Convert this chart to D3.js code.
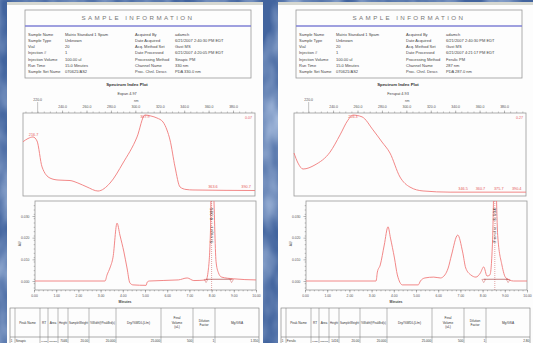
<!DOCTYPE html>
<html>
<head>
<meta charset="utf-8">
<script src="https://cdn.jsdelivr.net/npm/d3@7"></script>
<style>
  html, body { margin: 0; padding: 0; background: #4668a2; }
  svg { display: block; font-family: "Liberation Sans", Arial, sans-serif; }
</style>
</head>
<body>
<svg id="chart" width="533" height="343"></svg>
<script>
// ---- data ----
const infoLabelsLeft = ["Sample Name", "Sample Type", "Vial", "Injection #", "Injection Volume", "Run Time", "Sample Set Name"];
const infoLabelsRight = ["Acquired By", "Date Acquired", "Acq. Method Set", "Date Processed", "Processing Method", "Channel Name", "Proc. Chnl. Descr."];
const infoValuesLeft1 = ["Matrix Standard 1 Spam", "Unknown", "20", "1", "100.00 ul", "15.0 Minutes", "070621/AS2"];
const infoValuesRight1 = ["adamch", "6/21/2007 2:40:30 PM EDT", "Gust MS", "6/21/2007 4:20:05 PM EDT", "Sinapic PM", "330 nm", "PDA 330.0 nm"];
const infoValuesLeft2 = ["Matrix Standard 1 Spam", "Unknown", "20", "1", "100.00 ul", "15.0 Minutes", "070621/AS2"];
const infoValuesRight2 = ["adamch", "6/21/2007 2:40:30 PM EDT", "Gust MS", "6/21/2007 4:21:17 PM EDT", "Ferulic PM", "287 nm", "PDA 287.0 nm"];

const plotTitle = "Spectrum Index Plot";
const plotSubtitle1 = "Expan 4.97";
const plotSubtitle2 = "Ferupat 4.93";

// spectra (nm, AU)
const specNm1 = [208, 212.1, 216.2, 219.5, 223.6, 230.1, 236.7, 246.5, 253.0, 260.4, 269.4, 279.3, 289.9, 301.4, 307.9, 312.8, 317.7, 322.7, 325.9, 328.4, 332.5, 336.6, 341.5, 347.2, 398];
const specAbs1 = [0.0523, 0.0554, 0.0569, 0.0530, 0.0280, 0.0173, 0.0154, 0.0149, 0.0125, 0.0087, 0.0048, 0.0125, 0.0318, 0.0569, 0.0781, 0.0771, 0.0752, 0.0713, 0.0636, 0.0540, 0.0280, 0.0087, 0.0063, 0.0058, 0.0053];
const specNm2 = [208, 211.3, 215.4, 225.2, 237.5, 245.7, 252.2, 256.3, 263.7, 272.7, 280.1, 286.6, 294.8, 303.0, 313.7, 335.8, 398];
const specAbs2 = [0.145, 0.111, 0.091, 0.105, 0.148, 0.206, 0.256, 0.273, 0.267, 0.223, 0.182, 0.145, 0.064, 0.030, 0.017, 0.013, 0.013];
const specMax1 = 0.08, specMax2 = 0.28;
const specPeakLabels1 = [216.7, 307.9, 363.6, 390.7];
const specPeakLabels2 = [256.3, 346.5, 360.7, 375.7, 390.4];
const specCornerLabel1 = "0.07";
const specCornerLabel2 = "0.27";
const nmTicks = [220, 240, 260, 280, 300, 320, 340, 360, 380];

// chromatograms (minutes, AU)
const chromT1 = [0, 3.2, 3.29, 3.42, 3.56, 3.74, 3.87, 4.05, 4.19, 4.32, 4.46, 5.05, 5.1, 5.2, 6.5, 6.9, 7.2, 7.75, 7.85, 7.95, 8.0, 8.08, 8.2, 8.3, 8.45, 9.0, 10];
const chromAU1 = [0, 0, 0.0028, 0.006, 0.011, 0.0267, 0.0212, 0.0134, 0.006, -0.0009, -0.0018, -0.002, -0.0005, 0, 0.0005, 0.0014, 0.0002, 0.0005, 0.005, 0.0235, 0.06, 0.045, 0.009, 0.004, 0.0018, 0.001, 0.0005];
const chromT2 = [0, 3.2, 3.26, 3.39, 3.57, 3.74, 3.85, 4.03, 4.16, 4.39, 5.1, 5.2, 5.4, 5.8, 6.1, 6.3, 6.45, 6.6, 6.88, 7.1, 7.24, 7.47, 7.7, 7.9, 8.05, 8.2, 8.33, 8.45, 8.55, 8.68, 8.87, 9.05, 9.4, 10];
const chromAU2 = [0, 0, 0.0041, 0.0074, 0.0166, 0.025, 0.0198, 0.0106, 0.0028, -0.0018, -0.0018, 0, 0.0014, 0.0018, 0.0014, 0.0028, 0.006, 0.012, 0.0212, 0.0134, 0.006, 0.0028, 0.0018, 0.0037, 0.0065, 0.0023, 0.0028, 0.019, 0.06, 0.021, 0.0074, 0.0014, 0, 0];
const peakRT1 = 8.0, peakRT2 = 8.55;
const peakName1 = "Sinapic - 8.005", peakName2 = "Ferulic - 8.534";
const integ1 = [7.75, 8.9], integ2 = [8.05, 9.15];
const timeTicks = [0, 1, 2, 3, 4, 5, 6, 7, 8, 9, 10];
const auTicks = [0, 0.01, 0.02, 0.03];

// results table
const tableHeaders = [[""], ["Peak Name"], ["RT"], ["Area"], ["Height"], ["SampleWeight"], ["%Width@PeakBrd(s)"], ["Dry/%WDL(L/m)"], ["Final", "Volume", "(uL)"], ["Dilution", "Factor"], ["Mg/GSA"]];
const tableRow1 = ["1", "Sinapic", "8.005", "186277", "7046", "20.00", "20.000", "25.000", "500", "1", "1.350"];
const tableRow2 = ["1", "Ferulic", "8.534", "105661", "1416", "20.00", "20.000", "25.000", "500", "1", "2.80"];

// ---- drawing ----
const W = 533, H = 343;
const svg = d3.select("#chart");
const defs = svg.append("defs");
const tex = defs.append("filter").attr("id", "tex").attr("x", 0).attr("y", 0).attr("width", 1).attr("height", 1);
tex.append("feTurbulence").attr("type", "fractalNoise").attr("baseFrequency", "0.035 0.02").attr("numOctaves", 3).attr("seed", 4);
tex.append("feColorMatrix").attr("type", "matrix")
  .attr("values", "0 0 0 0 0.62  0 0 0 0 0.74  0 0 0 0 0.93  0 0 0 1.7 -0.55");

svg.append("rect").attr("width", W).attr("height", H).attr("fill", "#42649e");
svg.append("rect").attr("width", W).attr("height", H).attr("filter", "url(#tex)").attr("opacity", 0.7);

const red = "#f07a7a", labelRed = "#e65c5c", grey = "#9a9a9a", txt = "#555";

// make a text smaller if it is wider than the room it has
function fitText(sel, room) {
  sel.each(function () {
    const el = d3.select(this);
    const w = this.getComputedTextLength();
    if (w > room) el.attr("font-size", +el.attr("font-size") * room / w);
  });
}

function drawPage(dx, p, id) {
  const g = svg.append("g").attr("transform", `translate(${dx},0)`);

  // sheet
  g.append("rect").attr("x", 7).attr("y", 2).attr("width", 256).attr("height", 341).attr("fill", "#fdfdfd");
  g.append("rect").attr("x", 7).attr("y", 2).attr("width", 256).attr("height", 3).attr("fill", "#d6d8d2");

  // sample information box
  g.append("rect").attr("x", 25).attr("y", 10).attr("width", 226).attr("height", 68)
    .attr("fill", "none").attr("stroke", grey).attr("stroke-width", 0.8);
  g.append("line").attr("x1", 25).attr("x2", 251).attr("y1", 26).attr("y2", 26)
    .attr("stroke", "#7f80d4").attr("stroke-width", 1.4);
  g.append("text").attr("x", 138).attr("y", 20).attr("text-anchor", "middle")
    .attr("font-size", 6.2).attr("letter-spacing", 2.4).attr("fill", "#777").text("SAMPLE   INFORMATION");

  const rowY = i => 35.8 + i * 6.2;
  const cols = [[28, infoLabelsLeft], [65, p.left], [135, infoLabelsRight], [175, p.right]];
  cols.forEach(([x, arr]) => {
    g.selectAll(null).data(arr).join("text")
      .attr("x", x).attr("y", (d, i) => rowY(i))
      .attr("font-size", 4).attr("fill", "#444").text(d => d);
  });

  g.append("text").attr("x", 127).attr("y", 86).attr("text-anchor", "middle")
    .attr("font-size", 4.3).attr("font-weight", "bold").attr("fill", "#333").text(plotTitle);
  g.append("text").attr("x", 127).attr("y", 95).attr("text-anchor", "middle")
    .attr("font-size", 3.8).attr("fill", "#444").text(p.subtitle);

  // spectrum plot
  const sx = d3.scaleLinear().domain([208, 398]).range([23, 255]);
  const sy = d3.scaleLinear().domain([0, p.specMax]).range([196, 113]);
  g.append("rect").attr("x", 23).attr("y", 113).attr("width", 232).attr("height", 83)
    .attr("fill", "none").attr("stroke", grey).attr("stroke-width", 0.8);
  const topAxis = g.append("g").attr("transform", "translate(0,113)")
    .call(d3.axisTop(sx).tickValues(d3.range(210, 398, 5)).tickSize(1.5).tickFormat(""));
  const topMajor = g.append("g").attr("transform", "translate(0,113)")
    .call(d3.axisTop(sx).tickValues(nmTicks.slice(1)).tickSize(2.5).tickPadding(3).tickFormat(d3.format(".1f")));
  [topAxis, topMajor].forEach(a => {
    a.select(".domain").remove();
    a.selectAll(".tick line").attr("stroke", "#888").attr("stroke-width", 0.5);
    a.selectAll(".tick text").attr("font-size", 3.5).attr("fill", txt).attr("font-family", "Liberation Sans, Arial, sans-serif");
  });
  // first tick label sits higher with a long tick
  g.append("line").attr("x1", sx(nmTicks[0])).attr("x2", sx(nmTicks[0])).attr("y1", 102).attr("y2", 113)
    .attr("stroke", "#888").attr("stroke-width", 0.5);
  g.append("text").attr("x", sx(nmTicks[0])).attr("y", 101).attr("text-anchor", "middle")
    .attr("font-size", 3.5).attr("fill", txt).text(d3.format(".1f")(nmTicks[0]));
  g.append("text").attr("x", sx(300) + 1).attr("y", 101.5).attr("text-anchor", "middle")
    .attr("font-size", 3.3).attr("fill", txt).text("nm");

  const specData = p.specNm.map((d, i) => [d, p.specAbs[i]]);
  const specLine = d3.line().x(d => sx(d[0])).y(d => sy(d[1])).curve(d3.curveMonotoneX);
  g.append("path").datum(specData).attr("d", specLine)
    .attr("fill", "none").attr("stroke", red).attr("stroke-width", 0.9);

  const interp = (nm) => {
    const i = d3.bisectLeft(p.specNm, nm);
    if (i <= 0) return p.specAbs[0];
    if (i >= p.specNm.length) return p.specAbs[p.specNm.length - 1];
    const t = (nm - p.specNm[i - 1]) / (p.specNm[i] - p.specNm[i - 1]);
    return p.specAbs[i - 1] + t * (p.specAbs[i] - p.specAbs[i - 1]);
  };
  g.selectAll(null).data(p.specLabels).join("text")
    .attr("x", d => Math.min(sx(d), 250))
    .attr("y", d => Math.max(sy(interp(d)) - 2, 117.5))
    .attr("text-anchor", "middle").attr("font-size", 3.8).attr("fill", labelRed)
    .text(d => d.toFixed(1));
  g.append("text").attr("x", 252).attr("y", 118.5).attr("text-anchor", "end")
    .attr("font-size", 3.6).attr("fill", labelRed).text(p.specCorner);

  // chromatogram
  const cx = d3.scaleLinear().domain([0, 10]).range([34, 256]);
  const cy = d3.scaleLinear().domain([0, 0.03]).range([281, 216]);
  const clipId = "clip" + id;
  defs.append("clipPath").attr("id", clipId).append("rect")
    .attr("x", 35).attr("y", 201).attr("width", 221).attr("height", 89);
  g.append("rect").attr("x", 35).attr("y", 201).attr("width", 221).attr("height", 89)
    .attr("fill", "none").attr("stroke", grey).attr("stroke-width", 0.8);

  const xMinor = g.append("g").attr("transform", "translate(0,290)")
    .call(d3.axisBottom(cx).tickValues(d3.range(0, 10.01, 0.2)).tickSize(1.3).tickFormat(""));
  const xMajor = g.append("g").attr("transform", "translate(0,290)")
    .call(d3.axisBottom(cx).tickValues(timeTicks).tickSize(2.5).tickPadding(2).tickFormat(d3.format(".2f")));
  const yMinor = g.append("g").attr("transform", "translate(35,0)")
    .call(d3.axisLeft(cy).tickValues(d3.range(-0.003, 0.037, 0.002)).tickSize(1.3).tickFormat(""));
  const yMajor = g.append("g").attr("transform", "translate(35,0)")
    .call(d3.axisLeft(cy).tickValues(auTicks).tickSize(2.5).tickPadding(3).tickFormat(d3.format(".3f")));
  [xMinor, xMajor, yMinor, yMajor].forEach(a => {
    a.select(".domain").remove();
    a.selectAll(".tick line").attr("stroke", "#777").attr("stroke-width", 0.5);
    a.selectAll(".tick text").attr("font-size", 3.4).attr("fill", txt).attr("font-family", "Liberation Sans, Arial, sans-serif");
  });
  g.append("text").attr("x", 125).attr("y", 302.5).attr("text-anchor", "middle")
    .attr("font-size", 3.4).attr("font-weight", "bold").attr("fill", "#444").text("Minutes");
  g.append("text").attr("transform", "translate(21,244) rotate(-90)").attr("text-anchor", "middle")
    .attr("font-size", 3.4).attr("fill", "#444").text("AU");

  const chromData = p.chromT.map((d, i) => [d, p.chromAU[i]]);
  const chromLine = d3.line().x(d => cx(d[0])).y(d => cy(d[1])).curve(d3.curveMonotoneX);
  g.append("path").datum(chromData).attr("d", chromLine)
    .attr("clip-path", `url(#${clipId})`)
    .attr("fill", "none").attr("stroke", red).attr("stroke-width", 0.9);

  // peak marker, integration baseline, label
  g.append("line").attr("x1", cx(p.peakRT)).attr("x2", cx(p.peakRT)).attr("y1", 201).attr("y2", 290)
    .attr("stroke", "#c84a4a").attr("stroke-width", 0.5).attr("stroke-dasharray", "1,1");
  g.append("line").attr("x1", cx(p.integ[0])).attr("x2", cx(p.integ[1]))
    .attr("y1", cy(0.0008)).attr("y2", cy(0.0008)).attr("stroke", "#9c2a2a").attr("stroke-width", 0.6);
  p.integ.forEach(t => {
    g.append("path").attr("d", d3.symbol(d3.symbolTriangle, 6)())
      .attr("transform", `translate(${cx(t)},${cy(0.0008) + 1.2}) rotate(180)`)
      .attr("fill", "none").attr("stroke", "#c84a4a").attr("stroke-width", 0.4);
  });
  g.append("text").attr("transform", `translate(${cx(p.peakRT) + 1.4},225) rotate(-90)`)
    .attr("text-anchor", "middle").attr("font-size", 3.8).attr("letter-spacing", 0.7)
    .attr("fill", "#222").text(p.peakName);

  // results table
  const edges = [10, 15, 40, 48, 58, 68, 89, 116, 161, 193, 215, 259];
  const tTop = 308, hBot = 337;
  g.append("rect").attr("x", edges[0]).attr("y", tTop).attr("width", edges[edges.length - 1] - edges[0])
    .attr("height", 40).attr("fill", "none").attr("stroke", "#777").attr("stroke-width", 0.6);
  g.append("line").attr("x1", edges[0]).attr("x2", edges[edges.length - 1]).attr("y1", hBot).attr("y2", hBot)
    .attr("stroke", "#777").attr("stroke-width", 0.6);
  edges.slice(1, -1).forEach(x => {
    g.append("line").attr("x1", x).attr("x2", x).attr("y1", tTop).attr("y2", 343)
      .attr("stroke", "#777").attr("stroke-width", 0.5);
  });
  tableHeaders.forEach((lines, c) => {
    const xm = (edges[c] + edges[c + 1]) / 2;
    const room = edges[c + 1] - edges[c] - 2;
    const y0 = (tTop + hBot) / 2 - (lines.length - 1) * 2.1 + 1.1;
    lines.forEach((s, k) => {
      g.append("text").attr("x", xm).attr("y", y0 + k * 4.2).attr("text-anchor", "middle")
        .attr("font-size", 3.2).attr("fill", "#333").text(s).call(fitText, room);
    });
  });
  p.row.forEach((s, c) => {
    const left = c <= 1;
    const room = edges[c + 1] - edges[c] - 2;
    g.append("text").attr("x", left ? edges[c] + 0.8 : edges[c + 1] - 0.8).attr("y", 341.5)
      .attr("text-anchor", left ? "start" : "end").attr("font-size", 3.1).attr("fill", "#333")
      .text(s).call(fitText, room);
  });
}

drawPage(0, {
  left: infoValuesLeft1, right: infoValuesRight1, subtitle: plotSubtitle1,
  specNm: specNm1, specAbs: specAbs1, specMax: specMax1, specLabels: specPeakLabels1, specCorner: specCornerLabel1,
  chromT: chromT1, chromAU: chromAU1, peakRT: peakRT1, peakName: peakName1, integ: integ1, row: tableRow1
}, 1);
drawPage(271, {
  left: infoValuesLeft2, right: infoValuesRight2, subtitle: plotSubtitle2,
  specNm: specNm2, specAbs: specAbs2, specMax: specMax2, specLabels: specPeakLabels2, specCorner: specCornerLabel2,
  chromT: chromT2, chromAU: chromAU2, peakRT: peakRT2, peakName: peakName2, integ: integ2, row: tableRow2
}, 2);
</script>
</body>
</html>
